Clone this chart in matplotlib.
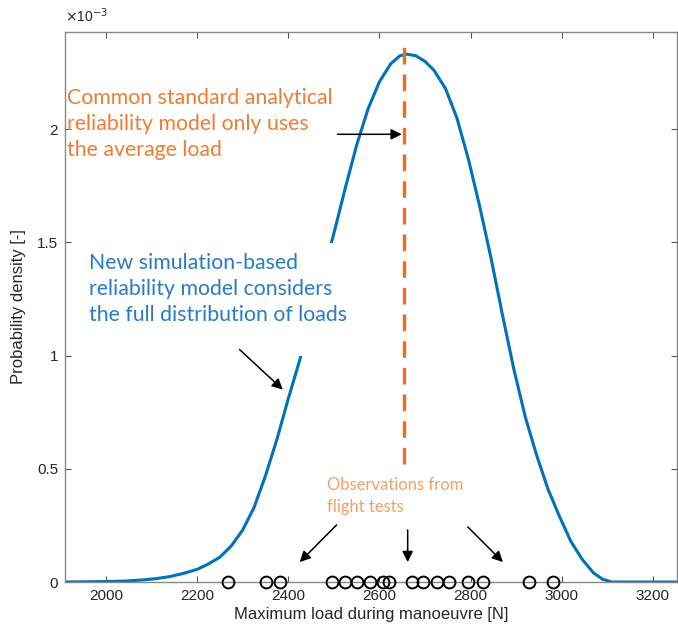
import matplotlib
matplotlib.use("Agg")
import matplotlib.pyplot as plt
from matplotlib.patches import Rectangle

# density curve (load in N, density in 1e-3)
load = [1910, 1960, 2000, 2040, 2080, 2110, 2140, 2170, 2200, 2225, 2250, 2275,
        2300, 2325, 2350, 2375, 2400, 2425, 2450, 2475, 2500, 2525, 2550, 2575,
        2600, 2625, 2645, 2660, 2680, 2700, 2720, 2745, 2770, 2795, 2820, 2845,
        2870, 2895, 2920, 2945, 2970, 2995, 3020, 3045, 3070, 3090, 3110, 3260]
density = [0.0, 0.001, 0.002, 0.004, 0.009, 0.015, 0.024, 0.038, 0.056, 0.08, 0.11, 0.16,
           0.23, 0.33, 0.47, 0.63, 0.81, 0.98, 1.17, 1.35, 1.54, 1.74, 1.93, 2.09,
           2.21, 2.29, 2.325, 2.332, 2.325, 2.30, 2.26, 2.18, 2.05, 1.87, 1.66, 1.43,
           1.18, 0.94, 0.73, 0.56, 0.41, 0.29, 0.18, 0.10, 0.04, 0.012, 0.0, 0.0]

# flight test observations
observations = [2267, 2352, 2381, 2497, 2524, 2550, 2579, 2607, 2620, 2671,
                2695, 2726, 2752, 2794, 2827, 2928, 2980]
mean_load = 2653

blue = "#0072BD"
orange = "#F26B21"

fig = plt.figure(figsize=(6.78, 6.32), dpi=100)
ax = fig.add_axes([0.0959, 0.0791, 0.9026, 0.8703])

ax.plot(load, [d * 1e-3 for d in density], color=blue, lw=2.2, zorder=2)
ax.plot([mean_load, mean_load], [0.52e-3, 2.39e-3], color=orange, lw=2.4,
        dashes=(5, 3), zorder=3)
ax.plot(observations, [0] * len(observations), "o", mfc="none", mec="k",
        ms=8.5, mew=1.4, clip_on=False, zorder=5)

ax.set_xlim(1910, 3253)
ax.set_ylim(0, 2.43e-3)
ax.set_xticks([2000, 2200, 2400, 2600, 2800, 3000, 3200])
ax.set_yticks([0, 0.5e-3, 1e-3, 1.5e-3, 2e-3])
ax.set_yticklabels(["0", "0.5", "1", "1.5", "2"])

font = "Liberation Sans"
for lab in ax.get_xticklabels() + ax.get_yticklabels():
    lab.set_family(font)
    lab.set_fontsize(11)
    lab.set_color("#262626")
ax.tick_params(direction="in", length=4, width=0.8, top=True, right=True,
               color="#555555", pad=5)
for s in ax.spines.values():
    s.set_color("#888888")
    s.set_linewidth(1.0)

ax.set_xlabel("Maximum load during manoeuvre [N]", family=font, fontsize=12,
              color="#262626", labelpad=3)
ax.set_ylabel("Probability density [-]", family=font, fontsize=12,
              color="#262626", labelpad=8)
ax.text(0.0, 1.012, r"$\times$10$^{-3}$", transform=ax.transAxes, family=font,
        fontsize=10, color="#262626", ha="left", va="bottom")

# white patch behind the blue note (hides part of the curve)
ax.add_patch(Rectangle((0.03, 0.411), 0.43, 0.205, transform=ax.transAxes,
                       facecolor="white", edgecolor="none", zorder=4))

note = "Lato"
ax.text(0.003, 0.898, "Common standard analytical\nreliability model only uses\nthe average load",
        transform=ax.transAxes, family=note, fontsize=15.3, color="#ED7D31",
        ha="left", va="top", linespacing=1.38, zorder=6)
ax.text(0.039, 0.598, "New simulation-based\nreliability model considers\nthe full distribution of loads",
        transform=ax.transAxes, family=note, fontsize=15.3, color="#2A7BC6",
        ha="left", va="top", linespacing=1.36, zorder=6)
ax.text(0.428, 0.191, "Observations from\nflight tests",
        transform=ax.transAxes, family=note, fontsize=12, color="#F4A060",
        ha="left", va="top", linespacing=1.5, zorder=6)

arrow = dict(arrowstyle="-|>", color="k", lw=1.1, mutation_scale=16,
             shrinkA=0, shrinkB=0)
arrows = [((2508, 1.978e-3), (2649, 1.978e-3)),
          ((2293, 1.027e-3), (2388, 0.850e-3)),
          ((2506, 0.252e-3), (2425, 0.088e-3)),
          ((2662, 0.230e-3), (2662, 0.088e-3)),
          ((2794, 0.243e-3), (2871, 0.088e-3))]
for start, tip in arrows:
    ax.annotate("", xy=tip, xytext=start, arrowprops=arrow, zorder=7)

fig.savefig("out.png", dpi=100)
